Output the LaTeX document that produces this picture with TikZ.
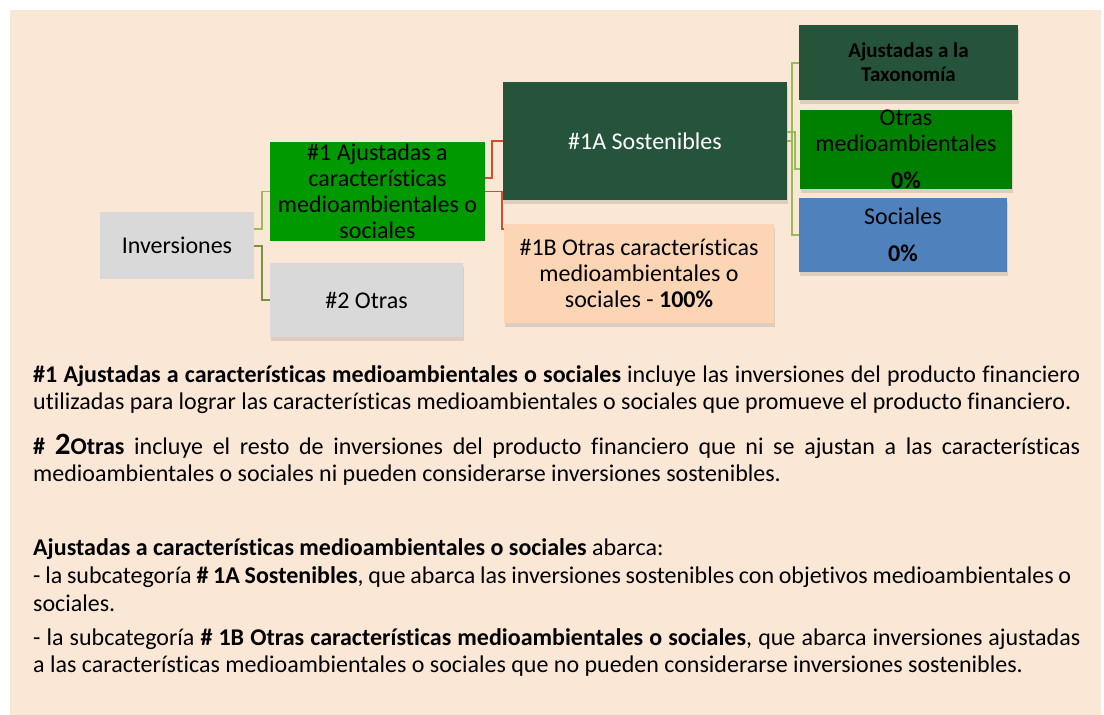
\documentclass[tikz,border=0pt]{standalone}
\usepackage{fontspec}
\setmainfont{Carlito}[Ligatures=NoCommon]
\usetikzlibrary{shadows}
\definecolor{bgpeach}{RGB}{250,231,214}
\definecolor{boxgray}{RGB}{217,217,217}
\definecolor{brightgreen}{RGB}{0,153,0}
\definecolor{darkgreen}{RGB}{38,84,59}
\definecolor{midgreen}{RGB}{0,128,0}
\definecolor{socblue}{RGB}{79,129,189}
\definecolor{peach}{RGB}{252,213,181}
\definecolor{lightolive}{RGB}{155,187,89}
\definecolor{olive}{RGB}{119,147,60}
\definecolor{redline}{RGB}{204,80,45}
\tikzset{
  box/.style={rectangle, inner sep=0pt, draw=none},
  shad/.style={drop shadow={shadow xshift=1pt, shadow yshift=-4pt, opacity=0.2, fill=black!60}},
  lbl/.style={align=center, inner sep=0pt, font=\fontsize{24}{26}\selectfont},
  conn/.style={line width=1.5pt},
  body/.style={anchor=base west, inner sep=0pt, font=\fontsize{24}{27}\selectfont}
}
\begin{document}
\begin{tikzpicture}[x=1pt,y=-1pt]
\useasboundingbox (0,0) rectangle (1104,715);
\fill[white] (0,0) rectangle (1104,715);
\fill[bgpeach] (10,10) rectangle (1101,715);

% boxes
\node[box, fill=boxgray, minimum width=154pt, minimum height=67pt] (inv) at (177,245.5) {};
\node[box, fill=brightgreen, minimum width=215pt, minimum height=99pt] (c1) at (377.5,191.5) {};
\node[box, shad, fill=boxgray, minimum width=193pt, minimum height=74pt] (c2) at (366.5,300) {};
\node[box, shad, fill=darkgreen, minimum width=284pt, minimum height=118pt] (s1a) at (645,141) {};
\node[box, shad, fill=peach, minimum width=270pt, minimum height=99pt] (s1b) at (639,273.5) {};
\node[box, shad, fill=darkgreen, minimum width=219pt, minimum height=75pt] (tax) at (908.5,62.5) {};
\node[box, shad, fill=midgreen, minimum width=212pt, minimum height=79pt] (otr) at (906,149.5) {};
\node[box, shad, fill=socblue, minimum width=208pt, minimum height=74pt] (soc) at (903,235) {};

% labels
\node[lbl] (tinv) at (inv.center) {Inversiones};
\node[lbl] (tc1) at (c1.center) {\#1 Ajustadas a\\características\\medioambientales o\\sociales};
\node[lbl] (tc2) at (c2.center) {\#2 Otras};
\node[lbl, text=white] (ts1a) at (s1a.center) {\#1A Sostenibles};
\node[lbl] (ts1b) at (s1b.center) {\#1B Otras características\\medioambientales o\\sociales - \textbf{100\%}};
\node[align=center, inner sep=0pt, font=\fontsize{21}{24}\selectfont\bfseries] (ttax) at (tax.center) {Ajustadas a la\\Taxonomía};
\node[lbl] (totr) at (otr.center) {Otras\\medioambientales\\[11pt]\textbf{0\%}};
\node[lbl] (tsoc) at (soc.center) {Sociales\\[11pt]\textbf{0\%}};

% connectors
\draw[conn, lightolive] ([yshift=16.5pt]inv.east) -- ++(8,0) |- (c1.west);
\draw[conn, olive] ([yshift=-0.5pt]inv.east) -- ++(8,0) |- (c2.west);
\draw[conn, redline] ([yshift=13.5pt]c1.east) -- ++(7,0) |- (s1a.west);
\draw[conn, redline] (c1.east) -- ++(17,0) |- ([yshift=44.5pt]s1b.west);
\draw[conn, lightolive] (s1a.east) -- ++(5,0) |- ([yshift=-0.5pt]tax.west);
\draw[conn, lightolive] ([yshift=9pt]s1a.east) -- ++(8,0) |- ([yshift=-19.5pt]otr.west);
\draw[conn, lightolive] (s1a.east) -- ++(5,0) |- (soc.west);

% body text
\node[body] (p1) at (33,382) {\hbox to 1047pt{\textbf{\#1 Ajustadas a características medioambientales o sociales} incluye las inversiones del producto financiero}};
\node[body] (p2) at (33,409) {utilizadas para lograr las características medioambientales o sociales que promueve el producto financiero.};
\node[body] (p3) at (33,454) {\hbox to 1047pt{\textbf{\#} {\fontsize{31}{31}\selectfont\bfseries 2}\textbf{Otras} incluye el resto de inversiones del producto financiero que ni se ajustan a las características}};
\node[body] (p4) at (33,481) {medioambientales o sociales ni pueden considerarse inversiones sostenibles.};
\node[body] (p5) at (33,555) {\textbf{Ajustadas a características medioambientales o sociales} abarca:};
\node[body] (p6) at (33,583) {\hbox to 1038pt{- la subcategoría \textbf{\# 1A Sostenibles}, que abarca las inversiones sostenibles con objetivos medioambientales o}};
\node[body] (p7) at (33,611) {sociales.};
\node[body] (p8) at (33,645) {\hbox to 1047pt{- la subcategoría \textbf{\# 1B Otras características medioambientales o sociales}, que abarca inversiones ajustadas}};
\node[body] (p9) at (33,672) {a las características medioambientales o sociales que no pueden considerarse inversiones sostenibles.};
\end{tikzpicture}
\end{document}
